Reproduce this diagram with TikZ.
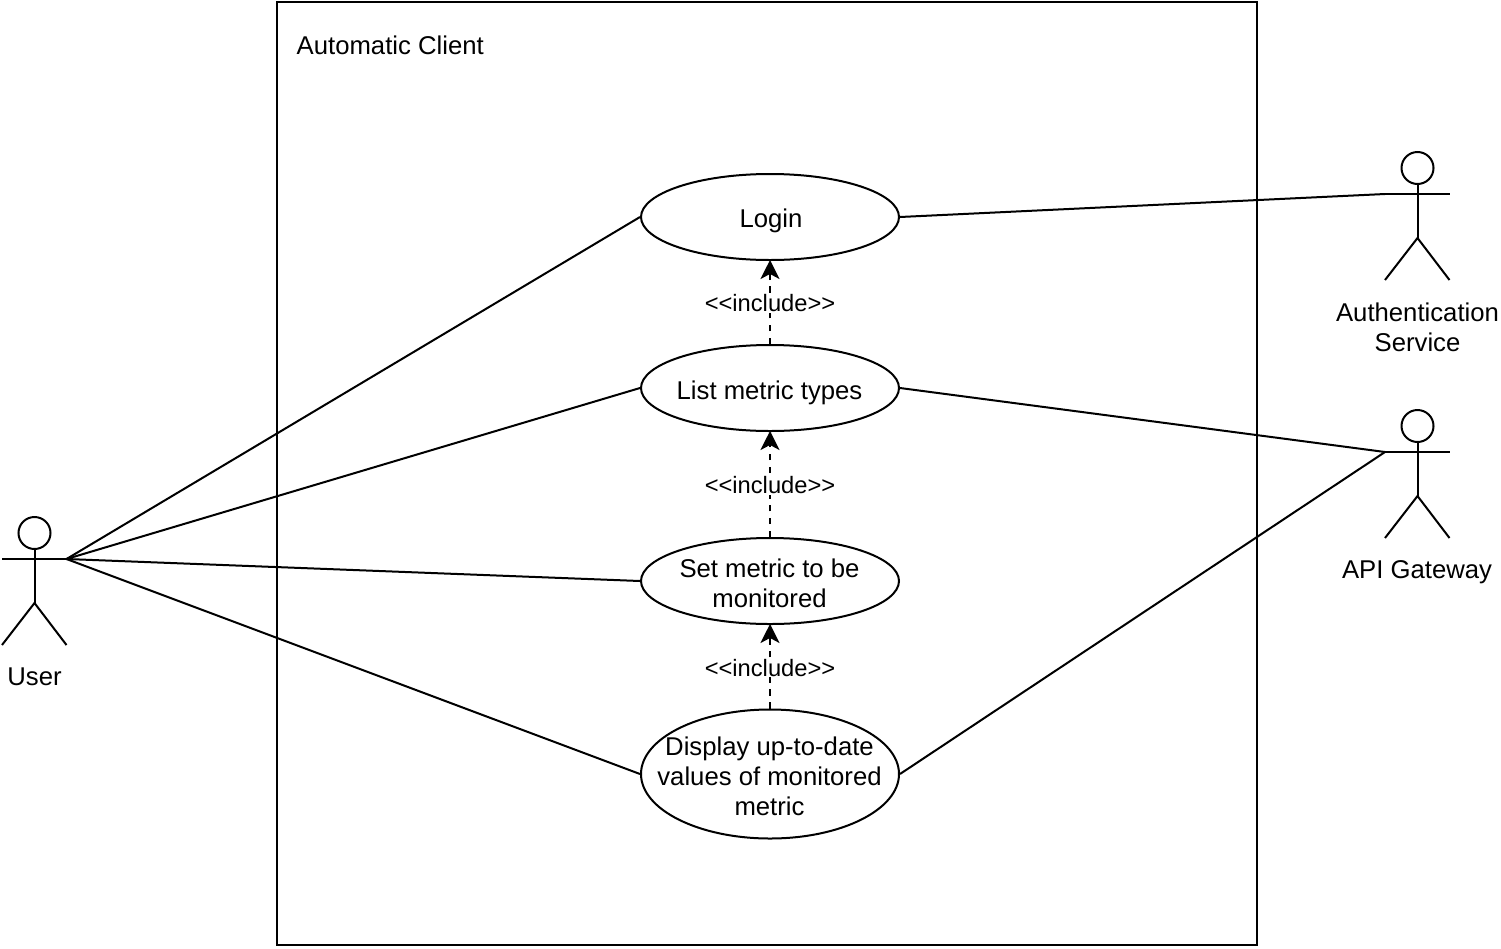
\documentclass[tikz,border=0pt]{standalone}
\usepackage{fontspec}
\setmainfont{Liberation Sans}
\usetikzlibrary{arrows.meta,shapes.geometric}
\tikzset{
 x=1pt,y=-1pt,
 line/.style={draw=black,line width=2pt},
 uc/.style={ellipse,draw=black,line width=2pt,minimum width=258pt,inner sep=0pt},
 lbl/.style={inner sep=0pt,align=center,font=\fontsize{25.7pt}{30pt}\selectfont},
 inc/.style={fill=white,inner sep=1pt,font=\fontsize{23.7pt}{26pt}\selectfont},
 dep/.style={line,dash pattern=on 6.4pt off 6.4pt,-{Stealth[length=19pt,width=19pt,inset=5pt]}}
}
\newcommand{\actor}[2]{%
 \begin{scope}[shift={#2}]
 \draw[line] (0,0) circle (16);
 \draw[line] (0,16) -- (0,70);
 \draw[line] (-32.5,26) -- (32,26);
 \draw[line] (-32.5,112) -- (0,70) -- (32,112);
 \coordinate (#1L) at (-32.5,26);
 \coordinate (#1R) at (32,26);
 \end{scope}}
\begin{document}
\begin{tikzpicture}
\useasboundingbox (0,0) rectangle (1501,948);
\draw[line] (277,2) rectangle (1256.5,945);
\node[lbl,anchor=west] (title) at (296.5,45) {Automatic Client};
\node[uc,minimum height=86pt] (login) at (770,217) {};
\node[uc,minimum height=86pt] (list) at (770,388) {};
\node[uc,minimum height=86pt] (set) at (770,581) {};
\node[uc,minimum height=129pt] (disp) at (770,774) {};
\node[lbl] (logint) at (771,221) {Login};
\node[lbl] (listt) at (769.5,392.5) {List metric types};
\node[lbl] (sett) at (769.5,583) {Set metric to be\\monitored};
\node[lbl] (dispt) at (769.5,776) {Display up-to-date\\values of monitored\\metric};
\actor{u}{(34.5,533)}
\actor{a}{(1417.5,168)}
\actor{g}{(1417.5,426)}
\node[lbl] (ul) at (34.5,677) {User};
\node[lbl] (al) at (1417.5,327) {Authentication\\Service};
\node[lbl] (gl) at (1417,572) {API Gateway};
\draw[line] (uR) -- (login.west);
\draw[line] (uR) -- (list.west);
\draw[line] (uR) -- (set.west);
\draw[line] (uR) -- (disp.west);
\draw[line] (login.east) -- (aL);
\draw[line] (list.east) -- (gL);
\draw[line] (disp.east) -- (gL);
\draw[dep,shorten >=-1pt] (list.north) -- (login.south) node[inc,pos=0.5,yshift=-1pt] {{<}{<}include{>}{>}};
\draw[dep,shorten >=-1pt] (set.north) -- (list.south) node[inc,pos=0.5,yshift=-1pt] {{<}{<}include{>}{>}};
\draw[dep,shorten >=-1pt] (disp.north) -- (set.south) node[inc,pos=0.5,yshift=-1pt] {{<}{<}include{>}{>}};
\end{tikzpicture}
\end{document}
